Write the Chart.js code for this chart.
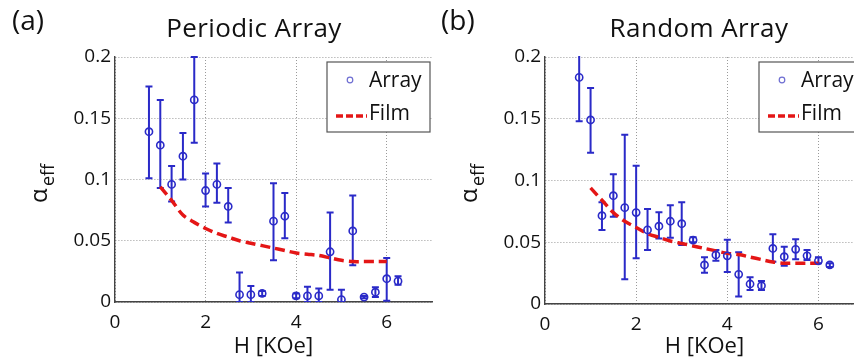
<!DOCTYPE html>
<html lang="en">
<head>
    <meta charset="UTF-8">
    <title>Effective damping: periodic vs random array</title>
    <script src="https://cdn.jsdelivr.net/npm/chart.js"></script>
    <style>
        body {
            margin: 0;
            padding: 0;
            width: 854px;
            height: 362px;
            overflow: hidden;
            background-color: #fff;
            position: relative;
            font-family: "Open Sans", Arial, sans-serif;
        }
        canvas {
            position: absolute;
            top: 0;
        }
        .label {
            position: absolute;
            color: #111;
            white-space: nowrap;
            line-height: 1;
        }
        .tag { font-size: 28px; }
        .ttl { font-size: 26px; letter-spacing: 0.4px; transform: translateX(-50%); }
    </style>
</head>
<body>
    <canvas id="periodicChart" width="440" height="362" style="left:0"></canvas>
    <canvas id="randomChart" width="440" height="362" style="left:430px"></canvas>

    <div class="label tag" style="left:12px; top:5px">(a)</div>
    <div class="label ttl" style="left:254px; top:14px">Periodic Array</div>
    <div class="label tag" style="left:441px; top:5px">(b)</div>
    <div class="label ttl" style="left:699px; top:14px">Random Array</div>

    <script>
        // field values of the array points (KOe)
        const arrayH = [0.75, 1, 1.25, 1.5, 1.75, 2, 2.25, 2.5, 2.75, 3, 3.25, 3.5, 3.75, 4, 4.25, 4.5, 4.75, 5, 5.25, 5.5, 5.75, 6, 6.25];

        // (a) periodic array
        const periodicAlpha = [0.139, 0.128, 0.096, 0.119, 0.165, 0.091, 0.096, 0.078, 0.006, 0.006, 0.007, 0.066, 0.070, 0.005, 0.005, 0.005, 0.041, 0.002, 0.058, 0.004, 0.008, 0.019, 0.017];
        const periodicLo = [0.101, 0.093, 0.082, 0.100, 0.130, 0.078, 0.081, 0.065, 0, 0, 0.005, 0.034, 0.052, 0.003, 0, 0, 0.010, 0, 0.030, 0.003, 0.004, 0.001, 0.014];
        const periodicHi = [0.176, 0.165, 0.111, 0.138, 0.200, 0.105, 0.113, 0.093, 0.024, 0.013, 0.009, 0.097, 0.089, 0.007, 0.0125, 0.011, 0.073, 0.010, 0.087, 0.005, 0.012, 0.036, 0.021];

        // (b) random array
        const randomAlpha = [0.1835, 0.149, 0.0715, 0.0877, 0.078, 0.074, 0.060, 0.063, 0.067, 0.065, 0.0518, 0.0316, 0.0397, 0.039, 0.024, 0.0162, 0.0148, 0.045, 0.0383, 0.0443, 0.039, 0.035, 0.0316];
        const randomLo = [0.148, 0.1225, 0.060, 0.0707, 0.020, 0.037, 0.0437, 0.053, 0.0537, 0.0478, 0.050, 0.0254, 0.035, 0.026, 0.006, 0.0113, 0.0113, 0.0343, 0.031, 0.0362, 0.0356, 0.033, 0.030];
        const randomHi = [0.23, 0.175, 0.0823, 0.105, 0.137, 0.112, 0.077, 0.0742, 0.080, 0.0823, 0.054, 0.0378, 0.0437, 0.052, 0.042, 0.0216, 0.0186, 0.0564, 0.0464, 0.0524, 0.0437, 0.0378, 0.033];

        // continuous film reference
        const filmH = [1, 1.25, 1.5, 1.75, 2, 2.25, 2.5, 2.75, 3, 3.25, 3.5, 3.75, 4, 4.25, 4.5, 4.75, 5, 5.25, 5.5, 5.75, 6];
        const filmPeriodic = [0.094, 0.083, 0.071, 0.065, 0.060, 0.056, 0.053, 0.050, 0.048, 0.046, 0.044, 0.042, 0.040, 0.039, 0.038, 0.036, 0.034, 0.033, 0.033, 0.033, 0.033];
        const filmRandom = [0.094, 0.084, 0.074, 0.067, 0.062, 0.057, 0.054, 0.051, 0.049, 0.047, 0.045, 0.043, 0.041, 0.040, 0.038, 0.036, 0.034, 0.033, 0.033, 0.033, 0.033];

        const xTicks = [0, 2, 4, 6];
        const yTicks = [0, 0.05, 0.1, 0.15, 0.2];

        const BLUE = 'rgb(42, 42, 200)';
        const RED = 'rgb(228, 22, 22)';
        const FONT = '"Open Sans", Arial, sans-serif';

        function pts(xs, ys) {
            return xs.map((x, i) => ({ x: x, y: ys[i] }));
        }

        // error bars, legend box and the alpha_eff axis label
        const extras = {
            id: 'extras',
            beforeDatasetsDraw(chart, args, opts) {
                const { ctx, chartArea } = chart;
                const xs = chart.scales.x, ys = chart.scales.y;
                ctx.save();
                ctx.beginPath();
                ctx.rect(chartArea.left, chartArea.top - 1, chartArea.right - chartArea.left, chartArea.bottom - chartArea.top + 1);
                ctx.clip();
                ctx.strokeStyle = BLUE;
                ctx.lineWidth = 2;
                arrayH.forEach((h, i) => {
                    const px = xs.getPixelForValue(h);
                    const top = ys.getPixelForValue(opts.hi[i]);
                    const bot = ys.getPixelForValue(opts.lo[i]);
                    ctx.beginPath();
                    ctx.moveTo(px, top); ctx.lineTo(px, bot);
                    ctx.moveTo(px - 3.5, top); ctx.lineTo(px + 3.5, top);
                    ctx.moveTo(px - 3.5, bot); ctx.lineTo(px + 3.5, bot);
                    ctx.stroke();
                });
                ctx.restore();
            },
            afterDraw(chart) {
                const { ctx, chartArea } = chart;
                ctx.save();
                // legend
                const right = chartArea.right - 2, left = right - 103;
                const top = chartArea.top + 5, h = 70;
                ctx.fillStyle = '#fff';
                ctx.fillRect(left, top, right - left, h);
                ctx.strokeStyle = '#555';
                ctx.lineWidth = 1.2;
                ctx.strokeRect(left, top, right - left, h);
                ctx.strokeStyle = 'rgb(110, 110, 210)';
                ctx.lineWidth = 1.2;
                ctx.beginPath();
                ctx.arc(left + 23, top + 18, 2.8, 0, Math.PI * 2);
                ctx.stroke();
                ctx.strokeStyle = RED;
                ctx.lineWidth = 3.5;
                ctx.setLineDash([7, 3]);
                ctx.beginPath();
                ctx.moveTo(left + 9, top + 54); ctx.lineTo(left + 40, top + 54);
                ctx.stroke();
                ctx.setLineDash([]);
                ctx.fillStyle = '#111';
                ctx.font = '21px ' + FONT;
                ctx.textBaseline = 'middle';
                ctx.fillText('Array', left + 42, top + 19);
                ctx.fillText('Film', left + 42, top + 52);
                // y axis title: alpha with subscript eff
                ctx.translate(47, 203);
                ctx.rotate(-Math.PI / 2);
                ctx.font = '24px ' + FONT;
                ctx.textBaseline = 'alphabetic';
                ctx.fillText('\u03b1', 0, 0);
                ctx.font = '18px ' + FONT;
                ctx.fillText('eff', 17, 7);
                ctx.restore();
            }
        };

        function makeChart(id, alpha, lo, hi, film, padRight, axisHeight) {
            return new Chart(document.getElementById(id).getContext('2d'), {
                type: 'scatter',
                data: {
                    datasets: [{
                        label: 'Array',
                        data: pts(arrayH, alpha),
                        borderColor: BLUE,
                        backgroundColor: 'rgba(0,0,0,0)',
                        borderWidth: 1.6,
                        pointRadius: 3.6
                    }, {
                        label: 'Film',
                        type: 'line',
                        data: pts(filmH, film),
                        borderColor: RED,
                        borderWidth: 3.5,
                        borderDash: [10, 5],
                        pointRadius: 0,
                        fill: false,
                        tension: 0.3
                    }]
                },
                options: {
                    responsive: false,
                    animation: false,
                    layout: { padding: { top: 57, right: padRight, left: 0, bottom: 0 } },
                    plugins: {
                        legend: { display: false },
                        tooltip: { enabled: false },
                        extras: { lo: lo, hi: hi }
                    },
                    scales: {
                        x: {
                            type: 'linear',
                            min: 0, max: 7,
                            afterFit: s => { s.height = axisHeight; },
                            afterBuildTicks: s => { s.ticks = xTicks.map(v => ({ value: v })); },
                            ticks: { padding: 9, color: '#111', font: { family: FONT, size: 19 } },
                            grid: { color: '#9a9a9a', drawTicks: false },
                            border: { color: '#444', width: 1.4, dash: [1, 2] },
                            title: { display: true, text: 'H [KOe]', color: '#111', padding: { bottom: 2 }, font: { family: FONT, size: 22 } }
                        },
                        y: {
                            min: 0, max: 0.2,
                            afterFit: s => { s.width = 115; },
                            afterBuildTicks: s => { s.ticks = yTicks.map(v => ({ value: v })); },
                            ticks: {
                                padding: 4, color: '#111', font: { family: FONT, size: 19 },
                                callback: v => String(+v.toFixed(2))
                            },
                            grid: { color: '#9a9a9a', drawTicks: false },
                            border: { color: '#444', width: 1.4, dash: [1, 2] }
                        }
                    }
                },
                plugins: [extras]
            });
        }

        makeChart('periodicChart', periodicAlpha, periodicLo, periodicHi, filmPeriodic, 8, 60);
        makeChart('randomChart', randomAlpha, randomLo, randomHi, filmRandom, 6, 58);
    </script>
</body>
</html>
